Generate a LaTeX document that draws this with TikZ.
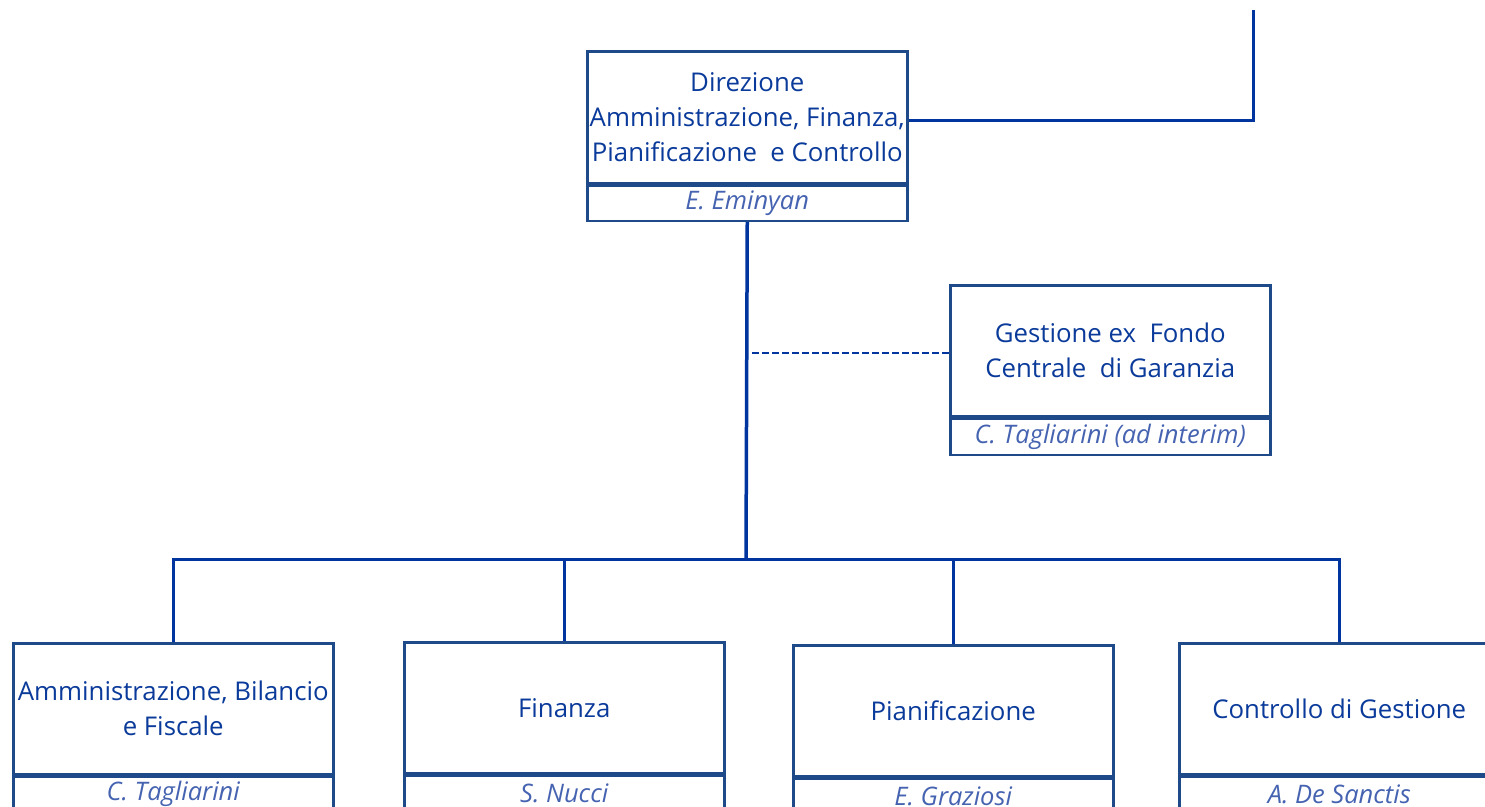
\documentclass[tikz,border=0pt]{standalone}
\usepackage{fontspec}
\setmainfont{Open Sans}
\definecolor{boxc}{HTML}{1F4A8A}
\definecolor{txtc}{HTML}{0A3A9A}
\definecolor{namec}{HTML}{4563B0}
\definecolor{linec}{HTML}{0035A0}
\tikzset{
  unitbox/.style={draw=boxc, line width=2.5pt, minimum width=320pt, minimum height=132pt,
    inner sep=0pt, align=center, font=\fontsize{25.8}{35}\selectfont, text=txtc, anchor=north west},
  namebox/.style={draw=boxc, line width=2.5pt, minimum width=320pt, minimum height=35pt,
    inner sep=0pt, font=\fontsize{25.5}{28}\selectfont\itshape, text=namec, anchor=north},
  conn/.style={draw=linec, line width=3pt},
  dashconn/.style={draw=linec, line width=2.5pt, dash pattern=on 7pt off 3pt}
}
\begin{document}
\begin{tikzpicture}[x=1pt,y=-1pt]
\useasboundingbox (0,0) rectangle (1485,806);
% top unit
\node[unitbox] (dir) at (586,50) {Direzione\\Amministrazione, Finanza,\\Pianificazione\ \ e Controllo};
\node[namebox] (dirn) at (dir.south) {E. Eminyan};
% staff unit
\node[unitbox, minimum height=131pt] (ges) at (949,284) {Gestione ex\ \ Fondo\\Centrale\ \ di Garanzia};
\node[namebox, minimum height=36pt] (gesn) at (ges.south) {C. Tagliarini (ad interim)};
% bottom units
\node[unitbox, minimum height=131pt] (abf) at (12,642) {Amministrazione, Bilancio\\e Fiscale};
\node[namebox] (abfn) at (abf.south) {C. Tagliarini};
\node[unitbox, minimum height=131pt] (fin) at (403,641) {Finanza};
\node[namebox] (finn) at (fin.south) {S. Nucci};
\node[unitbox, minimum height=131pt] (pia) at (792,644) {Pianificazione};
\node[namebox] (pian) at (pia.south) {E. Graziosi};
\node[unitbox, minimum height=131pt] (cdg) at (1178,642) {Controllo di Gestione};
\node[namebox] (cdgn) at (cdg.south) {A. De Sanctis};
% coordinates
\coordinate (topend) at (1253,10);
\coordinate (bus) at (746,559);
\coordinate (dashend) at (750,353);
% connectors
\draw[conn] (dir.east |- 0,120) -| (topend);
\draw[conn, line width=3.5pt] (dirn.south) -- (bus);
\draw[conn] (bus) -| (abf.north);
\draw[conn] (bus) -| (fin.north);
\draw[conn] (bus) -| (pia.north);
\draw[conn] (bus) -| (cdg.north);
\draw[dashconn] (ges.west |- dashend) -- (dashend);
\end{tikzpicture}
\end{document}
